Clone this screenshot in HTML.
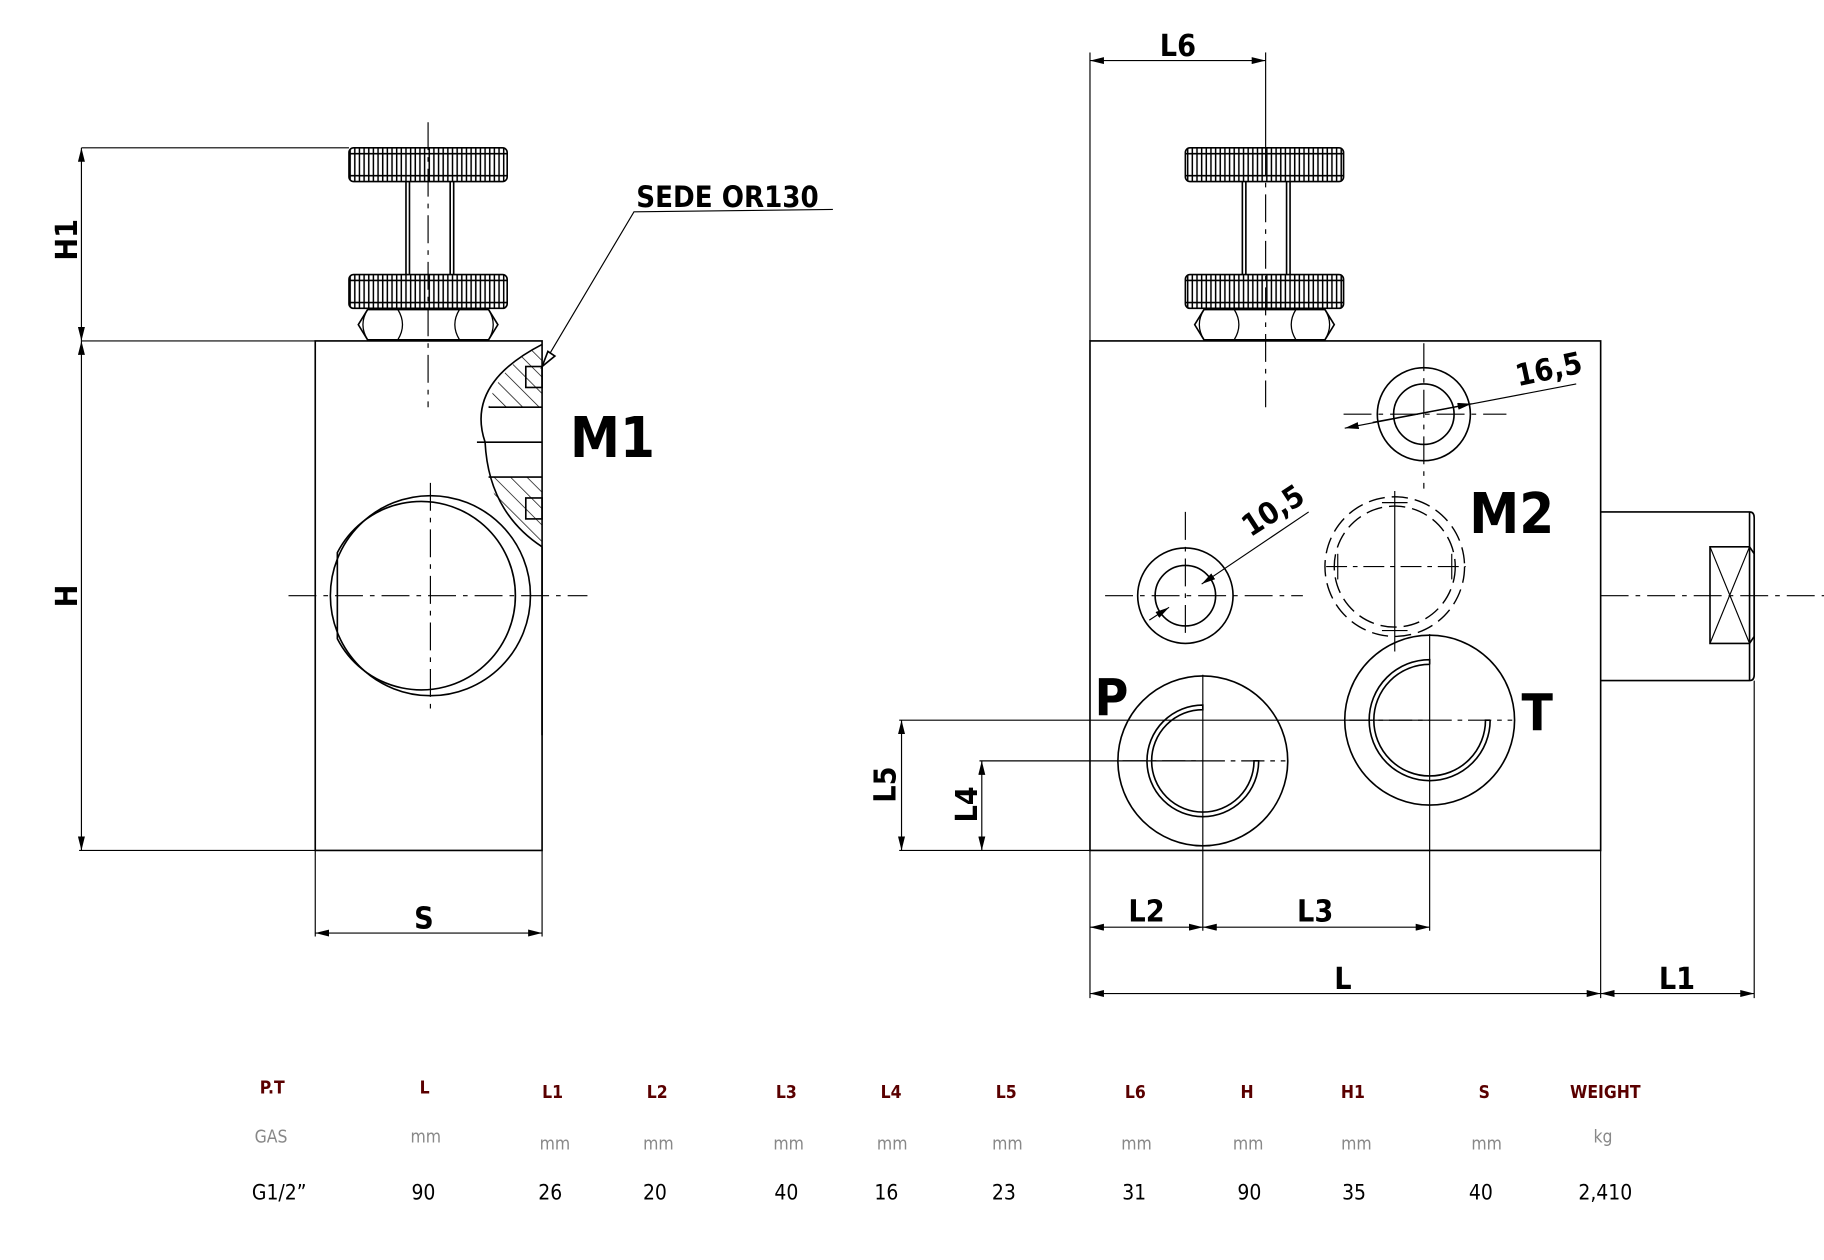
<!DOCTYPE html>
<html><head><meta charset="utf-8"><style>
html,body{margin:0;padding:0;background:#fff;width:1824px;height:1260px;overflow:hidden}
svg{display:block}
text{font-family:"DejaVu Sans Condensed","DejaVu Sans","Liberation Sans",sans-serif}
</style></head><body>
<svg width="1824" height="1260" viewBox="0 0 1568 1083" xmlns="http://www.w3.org/2000/svg">
<defs>
<pattern id="kn" width="4" height="10" patternUnits="userSpaceOnUse"><rect width="4" height="10" fill="#fff"/><line x1="1" y1="0" x2="1" y2="10" stroke="#000" stroke-width="1.3"/></pattern>
<pattern id="hat" width="10" height="10" patternUnits="userSpaceOnUse" patternTransform="rotate(-45)"><line x1="0" y1="0" x2="0" y2="10" stroke="#000" stroke-width="1.2"/></pattern>
<marker id="a" viewBox="0 0 12 6" refX="12" refY="3" markerWidth="12" markerHeight="6" orient="auto-start-reverse" markerUnits="userSpaceOnUse"><path d="M0,0 L12,3 L0,6z" fill="#000"/></marker>
</defs>
<g fill="none" stroke="#000" stroke-width="1.4">
<!-- LEFT VIEW -->
<rect x="271" y="293" width="195" height="438"/>
<rect x="300" y="127" width="136" height="29" rx="4" fill="url(#kn)"/>
<rect x="300" y="236" width="136" height="29" rx="4" fill="url(#kn)"/>
<line x1="300" y1="132" x2="436" y2="132"/><line x1="300" y1="151" x2="436" y2="151"/>
<line x1="300" y1="241" x2="436" y2="241"/><line x1="300" y1="260" x2="436" y2="260"/>
<line x1="349" y1="156" x2="349" y2="236"/><line x1="352" y1="156" x2="352" y2="236"/>
<line x1="387" y1="156" x2="387" y2="236"/><line x1="390" y1="156" x2="390" y2="236"/>
<path d="M308,279 L316,266 L420,266 L428,279 L420,292 L316,292Z"/>
<path d="M342,266 Q350,279 342,292 M395,266 Q387,279 395,292 M316,266 Q308,279 316,292 M420,266 Q428,279 420,292" stroke-width="1.1"/>
<!-- M1 cutaway -->
<path d="M466,296 Q400,330 417,380 Q420,440 466,470" />
<path d="M466,296 Q425,318 420,350 L466,350Z M420,410 L466,410 L466,470 Q430,450 420,410Z" fill="url(#hat)" stroke="none"/>
<line x1="420" y1="350" x2="466" y2="350"/><line x1="420" y1="410" x2="466" y2="410"/>
<rect x="452" y="315" width="14" height="18"/><rect x="452" y="428" width="14" height="18"/>
<line x1="410" y1="380" x2="466" y2="380"/>
<line x1="466" y1="470" x2="466" y2="632"/>
<circle cx="370" cy="512" r="86"/>
<path d="M290,475 A81,81 0 1 1 290,549 Z"/>
<g stroke-dasharray="24,6,4,6" stroke-width="1"><line x1="368" y1="105" x2="368" y2="350"/><line x1="370" y1="415" x2="370" y2="610"/><line x1="248" y1="512" x2="505" y2="512"/></g>
<line x1="70" y1="127" x2="300" y2="127" stroke-width="1"/>
<line x1="70" y1="293" x2="271" y2="293" stroke-width="1"/>
<line x1="68" y1="731" x2="271" y2="731" stroke-width="1"/>
<line x1="70" y1="127" x2="70" y2="293" stroke-width="1" marker-start="url(#a)" marker-end="url(#a)"/>
<line x1="70" y1="293" x2="70" y2="731" stroke-width="1" marker-start="url(#a)" marker-end="url(#a)"/>
<line x1="271" y1="731" x2="271" y2="805" stroke-width="1"/><line x1="466" y1="731" x2="466" y2="805" stroke-width="1"/>
<line x1="271" y1="802" x2="466" y2="802" stroke-width="1" marker-start="url(#a)" marker-end="url(#a)"/>
<polyline points="716,180 545,182 466,315" stroke-width="1"/>
<path d="M466,315 L471,302 L477,306Z" fill="#fff"/>

<!-- RIGHT VIEW -->
<rect x="937" y="293" width="439" height="438"/>
<rect x="1019" y="127" width="136" height="29" rx="4" fill="url(#kn)"/>
<rect x="1019" y="236" width="136" height="29" rx="4" fill="url(#kn)"/>
<line x1="1019" y1="132" x2="1155" y2="132"/><line x1="1019" y1="151" x2="1155" y2="151"/>
<line x1="1019" y1="241" x2="1155" y2="241"/><line x1="1019" y1="260" x2="1155" y2="260"/>
<line x1="1068" y1="156" x2="1068" y2="236"/><line x1="1071" y1="156" x2="1071" y2="236"/>
<line x1="1106" y1="156" x2="1106" y2="236"/><line x1="1109" y1="156" x2="1109" y2="236"/>
<path d="M1027,279 L1035,266 L1139,266 L1147,279 L1139,292 L1035,292Z"/>
<path d="M1061,266 Q1069,279 1061,292 M1114,266 Q1106,279 1114,292 M1035,266 Q1027,279 1035,292 M1139,266 Q1147,279 1139,292" stroke-width="1.1"/>
<line x1="1088" y1="45" x2="1088" y2="127" stroke-width="1"/>
<g stroke-dasharray="24,6,4,6" stroke-width="1"><line x1="1088" y1="127" x2="1088" y2="350"/></g>
<circle cx="1224" cy="356" r="40"/><circle cx="1224" cy="356" r="26"/>
<g stroke-dasharray="24,6,4,6" stroke-width="1"><line x1="1224" y1="295" x2="1224" y2="420"/><line x1="1155" y1="356" x2="1295" y2="356"/>
<line x1="1019" y1="440" x2="1019" y2="550"/><line x1="950" y1="512" x2="1120" y2="512"/>
<line x1="1376" y1="512" x2="1568" y2="512"/></g>
<line x1="1156" y1="368" x2="1355" y2="330" stroke-width="1" marker-start="url(#a)"/>
<line x1="1180" y1="363" x2="1265" y2="347" stroke-width="1" marker-end="url(#a)"/>
<circle cx="1019" cy="512" r="41"/><circle cx="1019" cy="512" r="26"/>
<line x1="988" y1="533" x2="1005" y2="522" stroke-width="1" marker-end="url(#a)"/>
<line x1="1033" y1="502" x2="1125" y2="440" stroke-width="1" marker-start="url(#a)"/>
<g stroke-dasharray="14,6" stroke-width="1.2"><circle cx="1199" cy="487" r="60"/><circle cx="1199" cy="487" r="52"/></g>
<g stroke-width="1"><line x1="1199" y1="422" x2="1199" y2="560"/><line x1="1140" y1="487" x2="1260" y2="487" stroke-dasharray="18,5,4,5"/><line x1="1150" y1="476" x2="1150" y2="498"/><line x1="1248" y1="476" x2="1248" y2="498"/><line x1="1188" y1="432" x2="1210" y2="432"/><line x1="1188" y1="542" x2="1210" y2="542"/></g>
<circle cx="1034" cy="654" r="73"/>
<path d="M1034,606 A48,48 0 1 0 1082,654 L1078,654 A44,44 0 1 1 1034,610 Z"/>
<circle cx="1229" cy="619" r="73"/>
<path d="M1229,571 A48,48 0 1 0 1277,619 L1281,619 M1229,571 L1229,567 A52,52 0 1 0 1281,619" />
<g stroke-width="1">
<line x1="1034" y1="580" x2="1034" y2="800"/><line x1="1229" y1="545" x2="1229" y2="800"/>
<line x1="965" y1="654" x2="1105" y2="654" stroke-dasharray="20,5,4,5"/>
<line x1="1160" y1="619" x2="1300" y2="619" stroke-dasharray="20,5,4,5"/>
<line x1="773" y1="619" x2="1229" y2="619"/><line x1="842" y1="654" x2="1034" y2="654"/>
<line x1="773" y1="731" x2="937" y2="731"/>
<line x1="775" y1="619" x2="775" y2="731" marker-start="url(#a)" marker-end="url(#a)"/>
<line x1="844" y1="654" x2="844" y2="731" marker-start="url(#a)" marker-end="url(#a)"/>
<line x1="937" y1="45" x2="937" y2="293"/>
<line x1="937" y1="52" x2="1088" y2="52" marker-start="url(#a)" marker-end="url(#a)"/>
<line x1="937" y1="731" x2="937" y2="858"/><line x1="1376" y1="731" x2="1376" y2="858"/><line x1="1508" y1="585" x2="1508" y2="858"/>
<line x1="937" y1="797" x2="1034" y2="797" marker-start="url(#a)" marker-end="url(#a)"/>
<line x1="1034" y1="797" x2="1229" y2="797" marker-start="url(#a)" marker-end="url(#a)"/>
<line x1="937" y1="854" x2="1376" y2="854" marker-start="url(#a)" marker-end="url(#a)"/>
<line x1="1376" y1="854" x2="1508" y2="854" marker-start="url(#a)" marker-end="url(#a)"/>
</g>
<path d="M1376,440 L1504,440 Q1508,440 1508,445 L1508,580 Q1508,585 1504,585 L1376,585"/>
<line x1="1504" y1="440" x2="1504" y2="585"/>
<path d="M1470,470 L1504,470 L1508,476 L1508,547 L1504,553 L1470,553Z"/>
<path d="M1470,470 L1504,553 M1470,553 L1504,470" stroke-width="1"/>
</g>
<g fill="#000" font-size="26" font-weight="600">
<text x="547" y="178" font-size="25">SEDE OR130</text>
<text x="490" y="393" font-size="48" font-weight="bold">M1</text>
<text x="1263" y="458" font-size="48" font-weight="bold">M2</text>
<text x="941" y="615" font-size="44" font-weight="bold">P</text>
<text x="1308" y="628" font-size="44" font-weight="bold">T</text>
<text transform="translate(1305,332) rotate(-12)">16,5</text>
<text transform="translate(1075,462) rotate(-33)">10,5</text>
<text x="356" y="798">S</text>
<text x="997" y="48">L6</text>
<text x="970" y="792">L2</text>
<text x="1115" y="792">L3</text>
<text x="1147" y="850">L</text>
<text x="1426" y="850">L1</text>
<text transform="translate(66,224) rotate(-90)">H1</text>
<text transform="translate(66,522) rotate(-90)">H</text>
<text transform="translate(770,690) rotate(-90)">L5</text>
<text transform="translate(840,707) rotate(-90)">L4</text>
</g>
<g font-family="Liberation Sans, sans-serif" font-size="15" text-anchor="middle">
<g font-weight="bold" fill="#5a0000">
<text x="234" y="940">P.T</text><text x="365" y="940">L</text><text x="475" y="944">L1</text><text x="565" y="944">L2</text><text x="676" y="944">L3</text><text x="766" y="944">L4</text><text x="865" y="944">L5</text><text x="976" y="944">L6</text><text x="1072" y="944">H</text><text x="1163" y="944">H1</text><text x="1276" y="944">S</text><text x="1380" y="944">WEIGHT</text>
</g>
<g fill="#888">
<text x="233" y="982">GAS</text><text x="366" y="982">mm</text><text x="477" y="988">mm</text><text x="566" y="988">mm</text><text x="678" y="988">mm</text><text x="767" y="988">mm</text><text x="866" y="988">mm</text><text x="977" y="988">mm</text><text x="1073" y="988">mm</text><text x="1166" y="988">mm</text><text x="1278" y="988">mm</text><text x="1378" y="982">kg</text>
</g>
<g fill="#000" font-size="18">
<text x="240" y="1031">G1/2”</text><text x="364" y="1031">90</text><text x="473" y="1031">26</text><text x="563" y="1031">20</text><text x="676" y="1031">40</text><text x="762" y="1031">16</text><text x="863" y="1031">23</text><text x="975" y="1031">31</text><text x="1074" y="1031">90</text><text x="1164" y="1031">35</text><text x="1273" y="1031">40</text><text x="1380" y="1031">2,410</text>
</g>
</g>
</svg>
</body></html>
